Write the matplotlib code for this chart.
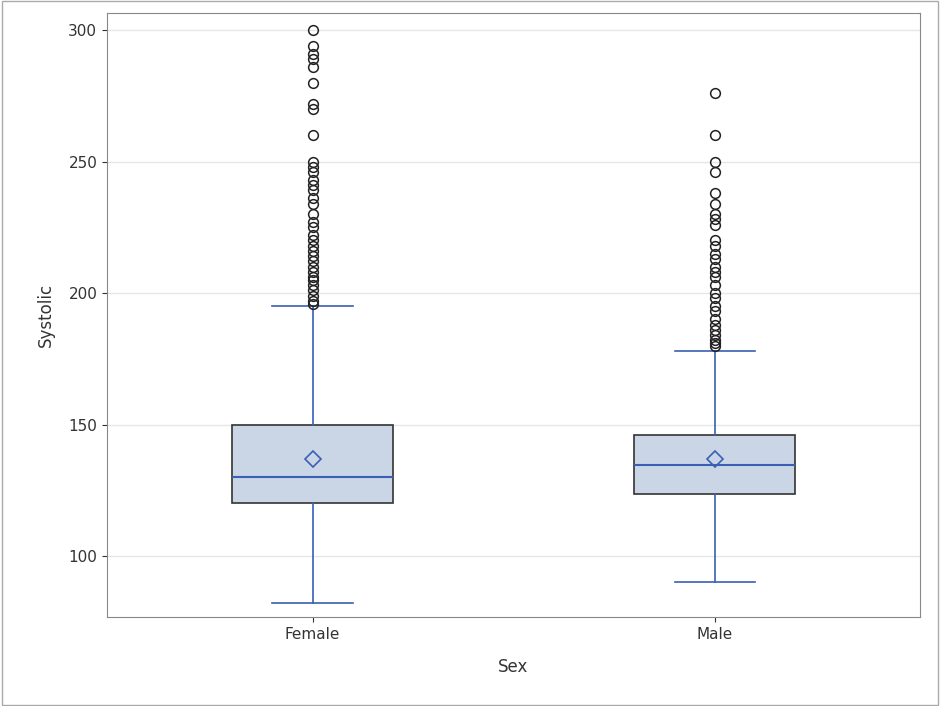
import matplotlib
matplotlib.use("Agg")
import matplotlib.pyplot as plt

categories = ["Female", "Male"]
q1 = [120, 123.5]
median = [130, 134.5]
q3 = [150, 146]
whislo = [82, 90]
whishi = [195, 178]
means = [137, 137]
outliers_female = [300, 294, 291, 289, 286, 280, 272, 270, 260, 250, 248, 246, 243, 241, 239, 236, 234, 230,
                   227, 225, 222, 220, 218, 216, 214, 212, 210, 208, 206, 205, 203, 201, 199, 197, 196]
outliers_male = [276, 260, 250, 246, 238, 234, 230, 228, 226, 220, 218, 215, 213, 210, 208, 206, 203, 200,
                 198, 195, 193, 190, 188, 186, 184, 182, 181, 180]
fliers = [outliers_female, outliers_male]

fig = plt.figure(figsize=(9.40, 7.06), dpi=100)
ax = fig.add_axes([107/940, 1-617/706, 813/940, 604/706])
stats = [dict(label=c, q1=a, med=m, q3=b, whislo=lo, whishi=hi, mean=mn, fliers=f)
         for c, a, m, b, lo, hi, mn, f in zip(categories, q1, median, q3, whislo, whishi, means, fliers)]
blue = "#3A5FB5"
ax.bxp(stats, positions=[0, 1], widths=0.4, capwidths=0.2, showmeans=True, patch_artist=True,
       boxprops=dict(facecolor="#CAD5E5", edgecolor="#333333", linewidth=1.2),
       medianprops=dict(color=blue, linewidth=1.5),
       whiskerprops=dict(color=blue, linewidth=1.2),
       capprops=dict(color=blue, linewidth=1.2),
       meanprops=dict(marker="D", markerfacecolor="none", markeredgecolor=blue, markersize=8, markeredgewidth=1.2),
       flierprops=dict(marker="o", markerfacecolor="none", markeredgecolor="#222222", markersize=7, markeredgewidth=1.1))
ax.set_xlim(-0.511, 1.51)
ax.set_ylim(76.8, 306.5)
ax.set_yticks([100, 150, 200, 250, 300])
ax.yaxis.grid(True, color="#E6E6E6", linewidth=1)
ax.set_axisbelow(True)
for s in ax.spines.values():
    s.set_color("#888888")
ax.tick_params(colors="#333333", labelsize=11)
ax.set_xlabel("Sex", fontsize=12, color="#333333", labelpad=12)
ax.set_ylabel("Systolic", fontsize=12, color="#333333", labelpad=10)
fig.patches.append(plt.Rectangle((0.002, 0.002), 0.996, 0.996, transform=fig.transFigure,
                                 fill=False, edgecolor="#AAAAAA", linewidth=1))
fig.savefig("out.png", dpi=100)
